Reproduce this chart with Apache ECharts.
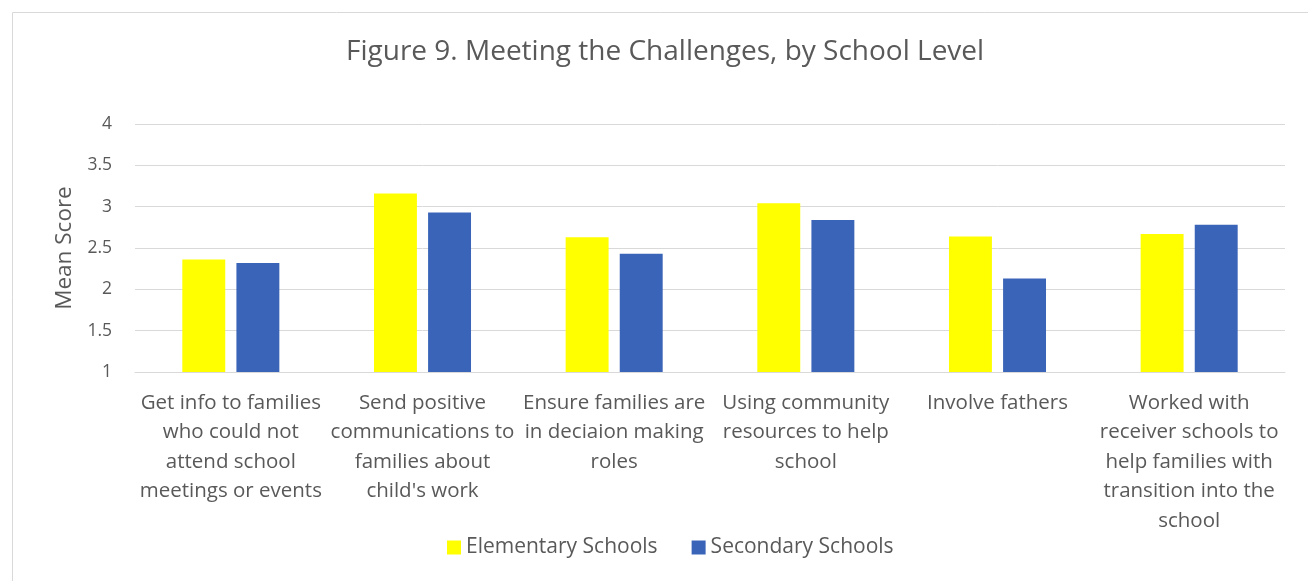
<!DOCTYPE html>
<html><head><meta charset="utf-8">
<script src="https://cdn.jsdelivr.net/npm/echarts@6/dist/echarts.min.js"></script>
<style>html,body{margin:0;padding:0;background:#fff}#c{width:1308px;height:581px}</style>
</head><body><div id="c"></div>
<script>
const categories = [
  "Get info to families\nwho could not\nattend school\nmeetings or events",
  "Send positive\ncommunications to\nfamilies about\nchild's work",
  "Ensure families are\nin deciaion making\nroles",
  "Using community\nresources to help\nschool",
  "Involve fathers",
  "Worked with\nreceiver schools to\nhelp families with\ntransition into the\nschool"
];
const elementary = [2.36, 3.16, 2.63, 3.04, 2.64, 2.67];
const secondary = [2.32, 2.93, 2.43, 2.84, 2.13, 2.78];
const seriesNames = ["Elementary Schools", "Secondary Schools"];

const chart = echarts.init(document.getElementById('c'));
const font = "'Open Sans', 'Liberation Sans', sans-serif";
chart.setOption({
  animation: false,
  textStyle: {fontFamily: font},
  graphic: [{type: 'rect', shape: {x: 12.5, y: 12.5, width: 1310, height: 600}, style: {fill: 'none', stroke: '#d9d9d9', lineWidth: 1}}],
  title: {
    text: "Figure 9. Meeting the Challenges, by School Level",
    left: 341, top: 33,
    textStyle: {fontFamily: font, fontSize: 28, fontWeight: 'normal', color: '#595959'}
  },
  legend: {
    data: seriesNames, bottom: 18, left: 442,
    itemWidth: 14, itemHeight: 14, itemGap: 34,
    icon: 'rect',
    textStyle: {fontFamily: font, fontSize: 21, color: '#595959'}
  },
  grid: {left: 135, right: 23, top: 124, bottom: 209},
  xAxis: {
    type: 'category', data: categories,
    axisLine: {lineStyle: {color: '#d9d9d9'}},
    axisTick: {show: false},
    axisLabel: {interval: 0, color: '#595959', fontSize: 20.5, lineHeight: 29.5, margin: 16, fontFamily: font}
  },
  yAxis: {
    type: 'value', min: 1, max: 4, interval: 0.5,
    name: 'Mean Score', nameLocation: 'middle', nameGap: 58, nameRotate: 90,
    nameTextStyle: {fontSize: 22.5, color: '#595959', fontFamily: font},
    axisLine: {show: false}, axisTick: {show: false},
    axisLabel: {color: '#595959', fontSize: 17.5, margin: 23, fontFamily: font},
    splitLine: {lineStyle: {color: '#d9d9d9', width: 1}}
  },
  series: [
    {name: seriesNames[0], type: 'bar', data: elementary, barWidth: '22.4%', barGap: '26%', itemStyle: {color: '#ffff00'}},
    {name: seriesNames[1], type: 'bar', data: secondary, barWidth: '22.4%', barGap: '26%', itemStyle: {color: '#3a64b8'}}
  ]
});
</script></body></html>
